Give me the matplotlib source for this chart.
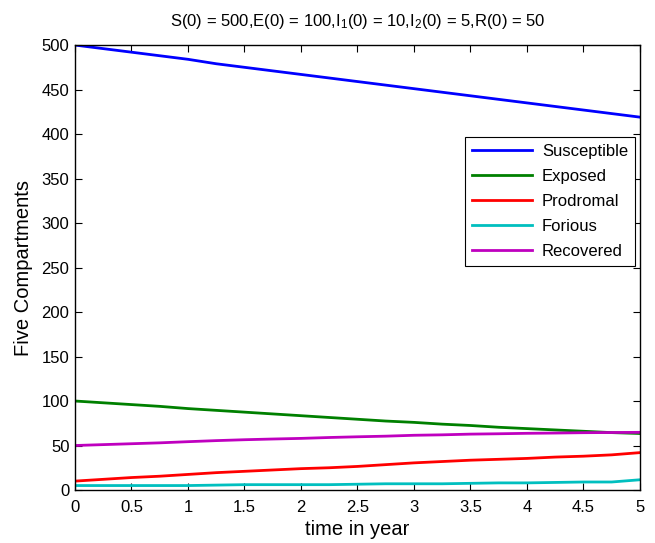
import numpy as np
import matplotlib
matplotlib.use("Agg")
import matplotlib.pyplot as plt

plt.rcParams['font.family'] = ['Liberation Sans', 'DejaVu Sans']
plt.rcParams['mathtext.fontset'] = 'custom'
plt.rcParams['mathtext.rm'] = 'Liberation Sans'
plt.rcParams['mathtext.it'] = 'Liberation Sans'

# time points (years) and compartment values
t = [0, 0.25, 0.5, 0.75, 1, 1.25, 1.5, 1.75, 2, 2.25, 2.5,
     2.75, 3, 3.25, 3.5, 3.75, 4, 4.25, 4.5, 4.75, 5]
susceptible = [500, 496, 492, 488, 484, 479, 475, 471, 467, 463, 459,
               455, 451, 447, 443, 439, 435, 431, 427, 423, 419]
exposed = [100, 98, 96, 94, 91.5, 89.5, 87.5, 85.5, 83.5, 81.5, 79.5,
           77.5, 76, 74, 72.5, 70.5, 69, 67.5, 66, 64.5, 63.5]
prodromal = [10, 12, 14, 15.5, 17.5, 19.5, 21, 22.5, 24, 25, 26.5,
             28.5, 30.5, 32, 33.5, 34.5, 35.5, 37, 38, 39.5, 42]
forious = [5, 5, 5, 5, 5, 5.5, 6, 6, 6, 6, 6.5,
           7, 7, 7, 7.5, 8, 8, 8.5, 9, 9, 11.5]
recovered = [50, 51, 52, 53, 54.3, 55.5, 56.5, 57.3, 58, 59, 59.8,
             60.5, 61.5, 62, 62.8, 63.2, 63.7, 64, 64.4, 64.6, 64.8]

names = ['Susceptible', 'Exposed', 'Prodromal', 'Forious', 'Recovered']
colors = ['#0000ff', '#008000', '#ff0000', '#00bfbf', '#bf00bf']

fig = plt.figure(figsize=(6.55, 5.43), dpi=100)
ax = fig.add_axes([0.1145, 0.0976, 0.8625, 0.8194])

for y, nm, c in zip([susceptible, exposed, prodromal, forious, recovered], names, colors):
    ax.plot(t, y, color=c, lw=2, label=nm)

ax.set_xlim(0, 5)
ax.set_ylim(0, 500)
ax.set_xticks(np.arange(0, 5.01, 0.5))
ax.set_xticklabels(['0', '0.5', '1', '1.5', '2', '2.5', '3', '3.5', '4', '4.5', '5'])
ax.set_yticks(np.arange(0, 501, 50))
ax.tick_params(direction='in', top=True, right=True, labelsize=12, length=5, width=0.8, pad=4)
ax.tick_params(axis='x', pad=7)
for s in ax.spines.values():
    s.set_linewidth(1.0)

ax.set_xlabel('time in year', fontsize=14.5, labelpad=4)
ax.set_ylabel('Five Compartments', fontsize=14.5, labelpad=6)
ax.set_title(r'S(0) = 500,E(0) = 100,I$_{\mathrm{1}}$(0) = 10,I$_{\mathrm{2}}$(0) = 5,R(0) = 50',
             fontsize=12, pad=14)

leg = ax.legend(loc='upper right', bbox_to_anchor=(0.991, 0.793), fontsize=12,
                frameon=True, fancybox=False, framealpha=1, edgecolor='black',
                handlelength=3.6, borderpad=0.4, labelspacing=0.6, handletextpad=0.6,
                borderaxespad=0)
leg.get_frame().set_linewidth(0.8)

fig.savefig('out.png', dpi=100)
